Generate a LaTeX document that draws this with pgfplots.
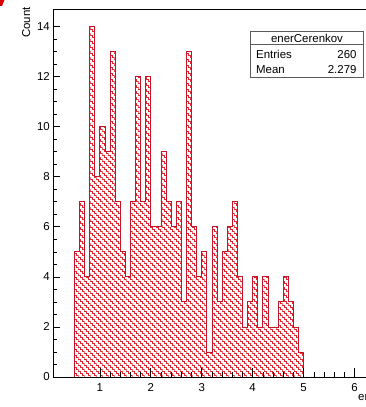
\documentclass[border=0pt]{standalone}
\usepackage{fontspec}
\setmainfont{Liberation Sans}
\usepackage{pgfplots}
\usepackage{pgfplotstable}
\pgfplotsset{compat=1.18}
\usetikzlibrary{patterns}
\pgfdeclarepatternformonly{rootstairs}{\pgfqpoint{-0.5bp}{-0.5bp}}{\pgfqpoint{6.5bp}{6.5bp}}{\pgfqpoint{6bp}{6bp}}{%
  \pgfsetlinewidth{0.6bp}%
  \pgfpathmoveto{\pgfqpoint{0bp}{6bp}}%
  \pgfpathlineto{\pgfqpoint{2bp}{6bp}}%
  \pgfpathlineto{\pgfqpoint{2bp}{4bp}}%
  \pgfpathlineto{\pgfqpoint{4bp}{4bp}}%
  \pgfpathlineto{\pgfqpoint{4bp}{2bp}}%
  \pgfpathlineto{\pgfqpoint{6bp}{2bp}}%
  \pgfpathlineto{\pgfqpoint{6bp}{0bp}}%
  \pgfusepath{stroke}}
\definecolor{histline}{RGB}{200,20,40}
\definecolor{histhatch}{RGB}{225,40,50}
\definecolor{boxgray}{RGB}{90,90,90}
\pgfplotstableread{
x y
0.5 5
0.6 7
0.7 4
0.8 14
0.9 8
1.0 10
1.1 9
1.2 13
1.3 7
1.4 5
1.5 4
1.6 7
1.7 12
1.8 7
1.9 12
2.0 6
2.1 6
2.2 9
2.3 7
2.4 6
2.5 7
2.6 3
2.7 13
2.8 6
2.9 4
3.0 5
3.1 1
3.2 6
3.3 3
3.4 5
3.5 6
3.6 7
3.7 4
3.8 2
3.9 3
4.0 4
4.1 2
4.2 4
4.3 2
4.4 2
4.5 3
4.6 4
4.7 3
4.8 2
4.9 1
5.0 1
}\histdata
\begin{document}
\begin{tikzpicture}
\path[use as bounding box] (-53.5bp,-30bp) rectangle (312.5bp,377bp);
\clip (-53.5bp,-30bp) rectangle (312.5bp,377bp);
\begin{axis}[
  at={(0,0)}, anchor=south west,
  scale only axis, width=352bp, height=368bp,
  xmin=0.09, xmax=7.0, ymin=0, ymax=14.7,
  xtick={1,2,3,4,5,6}, ytick={0,2,4,6,8,10,12,14},
  minor x tick num=4, minor y tick num=3,
  tick align=inside, xtick pos=bottom, ytick pos=left,
  major tick length=6bp, minor tick length=3bp,
  xtick style={/pgfplots/major tick length=9bp,/pgfplots/minor tick length=4.5bp, black, line width=0.6bp},
  ytick style={black, line width=0.6bp},
  axis line style={black, line width=0.7bp},
  axis on top,
  /pgf/number format/assume math mode=true,
  tick label style={font=\fontsize{11.5}{13}\selectfont},
  xticklabel style={inner sep=0pt, anchor=north, yshift=-6.5bp},
  yticklabel style={inner sep=0pt, anchor=east, xshift=-3.5bp},
]
\addplot[const plot, draw=histline, line width=0.8bp, pattern=rootstairs, pattern color=histhatch] table[x=x,y=y] {\histdata} \closedcycle;
\end{axis}
% stats box
\draw[boxgray, line width=0.8bp, fill=white] (197.2bp,299.7bp) rectangle (309.8bp,345.3bp);
\draw[boxgray, line width=0.6bp] (197.2bp,332.7bp) -- (309.8bp,332.7bp);
\node[anchor=base, inner sep=0pt, font=\fontsize{11.5}{13}\selectfont] at (253.5bp,334.5bp) {enerCerenkov};
\node[anchor=base west, inner sep=0pt, font=\fontsize{11.5}{13}\selectfont] at (202.5bp,318bp) {Entries};
\node[anchor=base east, inner sep=0pt, font=\fontsize{11.5}{13}\selectfont] at (303.2bp,318bp) {260};
\node[anchor=base west, inner sep=0pt, font=\fontsize{11.5}{13}\selectfont] at (202.5bp,303.5bp) {Mean};
\node[anchor=base east, inner sep=0pt, font=\fontsize{11.5}{13}\selectfont] at (303.2bp,303.5bp) {2.279};
% axis titles
\node[rotate=90, anchor=base east, inner sep=0pt, font=\fontsize{11.5}{13}\selectfont] at (-23.5bp,370bp) {Count};
\node[anchor=base west, inner sep=0pt, font=\fontsize{11.5}{13}\selectfont] at (304.5bp,-23bp) {energy};
% red corner mark
\fill[red!85!black] (-53.5bp,377bp) -- (-49bp,377bp) .. controls (-49.5bp,374bp) .. (-51.5bp,371bp) -- (-53.5bp,371bp) -- cycle;
\end{tikzpicture}
\end{document}
